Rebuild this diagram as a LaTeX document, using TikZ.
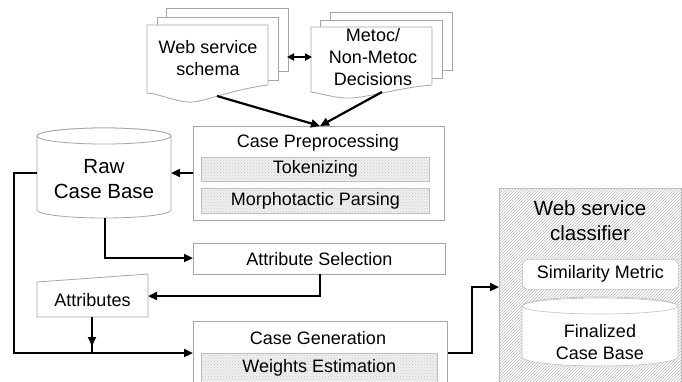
\documentclass[tikz,border=0pt]{standalone}
\usepackage{fontspec}
\setmainfont{Liberation Sans}
\usetikzlibrary{arrows.meta,patterns}
\begin{document}
\begin{tikzpicture}[x=1pt,y=-1pt,
  box/.style={draw=gray!70,line width=0.8pt,fill=white},
  hatchin/.style={draw=gray!50,line width=0.6pt,fill=gray!12,postaction={pattern=crosshatch dots,pattern color=gray!45}},
  conn/.style={line width=2.2pt,-{Triangle[length=9pt,width=8pt]}},
  plain/.style={line width=2.2pt},
  txt/.style={font=\fontsize{18}{22}\selectfont,align=center,inner sep=0pt},
  bigtxt/.style={font=\fontsize{20.5}{25}\selectfont,align=center,inner sep=0pt}]
\clip (0,0) rectangle (682,381);
\fill[white] (0,0) rectangle (682,381);

% ---- Web service schema stack
\draw[box] (166,8) rectangle (288,71);
\draw[box] (157,17) rectangle (278,80);
\draw[box] (147,25) -- (268,25) -- (268,85) .. controls (228,90) and (200,104) .. (187,102) .. controls (170,100) and (160,94) .. (147,93) -- cycle;
\node[txt] (ws) at (208,58) {Web service\\schema};
\coordinate (wsb) at (217,96);

% ---- Metoc stack
\draw[box] (330,12) rectangle (452,70);
\draw[box] (320,20) rectangle (442,78);
\draw[box] (311,27) -- (432,27) -- (432,85) .. controls (395,88) and (365,99) .. (345,98) .. controls (330,97) and (320,93) .. (311,92) -- cycle;
\node[txt] (mt) at (373,57) {Metoc/\\Non-Metoc\\Decisions};
\coordinate (mtb) at (382,92);

\coordinate (dl) at (287,57);
\coordinate (dr) at (312,57);
\draw[line width=2.2pt,{Triangle[length=7pt,width=7pt]}-{Triangle[length=7pt,width=7pt]}] (dl) -- (dr);

% ---- Case Preprocessing
\node[box,minimum width=251pt,minimum height=94pt,inner sep=0pt,anchor=north west] (cp) at (193,126) {};
\node[txt] (cpt) at (318,143) {Case Preprocessing};
\node[hatchin,minimum width=228pt,minimum height=24pt,inner sep=0pt,anchor=north west,txt] (tok) at (201,157) {Tokenizing};
\node[hatchin,minimum width=228pt,minimum height=25pt,inner sep=0pt,anchor=north west,txt] (mor) at (201,188) {Morphotactic Parsing};
\coordinate (cptop) at (320,126);
\draw[conn] (wsb) -- (cptop);
\draw[conn] (mtb) -- (cptop);

% ---- Raw Case Base cylinder
\draw[box] (37,136) -- (37,210) arc[start angle=180,end angle=360,x radius=67pt,y radius=8pt] -- (171,136) arc[start angle=0,end angle=180,x radius=67pt,y radius=8pt] -- cycle;
\draw[box] (104,136) ellipse[x radius=67pt,y radius=8pt];
\node[bigtxt] (raw) at (104,179) {Raw\\Case Base};
\coordinate (rawE) at (171,173);
\coordinate (rawW) at (37,173);
\coordinate (rawS) at (105,218);
\draw[conn] (cp.west |- rawE) -- (rawE);

% ---- Attribute Selection
\node[box,txt,minimum width=252pt,minimum height=31pt,anchor=north west] (as) at (193,243) {Attribute Selection};
\draw[conn] (rawS) -- (105,258) -- (as.west |- 0,258);

% ---- Attributes
\draw[box] (37,282) -- (148,274) -- (148,317) -- (37,317) -- cycle;
\node[txt] (at) at (92.5,300) {Attributes};
\draw[conn] (320,274) -- (320,296) -- (148,296);

% ---- Case Generation
\node[box,minimum width=254pt,minimum height=70pt,inner sep=0pt,anchor=north west] (cg) at (193,321) {};
\node[txt] (cgt) at (318,338) {Case Generation};
\node[hatchin,minimum width=236pt,minimum height=30pt,inner sep=0pt,anchor=north west,txt] (we) at (201,353) {\raisebox{-4pt}{Weights Estimation}};
\draw[conn] (rawW) -- (14,173) -- (14,353) -- (cg.west |- 0,353);
\draw[conn] (92,317) -- (92,346);
\draw[plain] (92,344) -- (92,353);

% ---- Classifier
\node[draw=gray!50,line width=0.8pt,fill=white,postaction={pattern=north east lines,pattern color=gray!55},minimum width=182pt,minimum height=200pt,inner sep=0pt,anchor=north west] (cl) at (499,188) {};
\node[bigtxt] (clt) at (590,221) {Web service\\classifier};
\node[draw=gray!50,line width=0.6pt,fill=white,rounded corners=6pt,minimum width=156pt,minimum height=30pt,inner sep=0pt,anchor=north west,txt] (sm) at (522,259) {Similarity Metric};
\draw[draw=gray!50,line width=0.6pt,fill=white] (522,306) -- (522,357) arc[start angle=180,end angle=360,x radius=78pt,y radius=9pt] -- (678,306) arc[start angle=0,end angle=180,x radius=78pt,y radius=9pt] -- cycle;
\draw[draw=gray!50,line width=0.6pt] (600,306) ellipse[x radius=78pt,y radius=8pt];
\node[txt] (fc) at (600,342) {Finalized\\Case Base};
\draw[conn] (cg.east |- 0,353) -- (472,353) -- (472,287) -- (cl.west |- 0,287);
\end{tikzpicture}
\end{document}
